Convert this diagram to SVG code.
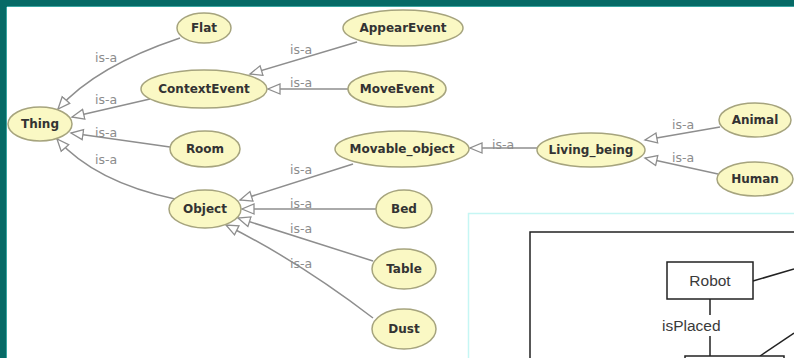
<svg xmlns="http://www.w3.org/2000/svg" width="794" height="358" viewBox="0 0 794 358">
<style>
.node ellipse{fill:#faf8c4;stroke:#a6a47e;stroke-width:1.5}
.node text{font-family:"DejaVu Sans",sans-serif;font-size:12px;font-weight:bold;fill:#333;text-anchor:middle}
.edge{fill:none;stroke:#8e8e8e;stroke-width:1.5;marker-end:url(#tri)}
.lbl{font-family:"DejaVu Sans",sans-serif;font-size:12.5px;fill:#8c8c8c}
.box{fill:#fff;stroke:#222;stroke-width:1.5}
.btxt{font-family:"Liberation Sans",Arial,sans-serif;font-size:15.5px;fill:#3a3a3a}
</style>
<defs>
<marker id="tri" markerUnits="userSpaceOnUse" markerWidth="16" markerHeight="14" refX="13" refY="6" orient="auto" viewBox="0 0 16 12">
<path d="M1,1 L13,6 L1,11 Z" fill="#fff" stroke="#8e8e8e" stroke-width="1.3"/>
</marker>
</defs>
<rect x="0" y="0" width="794" height="358" fill="#fff"/>
<rect x="0" y="0" width="794" height="7" fill="#066a66"/>
<rect x="0" y="0" width="7" height="358" fill="#066a66"/>
<line x1="7" y1="6.5" x2="794" y2="6.5" stroke="#3aa6a2" stroke-width="1"/>
<line x1="6.5" y1="7" x2="6.5" y2="358" stroke="#3aa6a2" stroke-width="1"/>

<g id="connectors">
<path class="edge" d="M180,38 Q96,66 58,109"/>
<path class="edge" d="M150,99 L72,117"/>
<path class="edge" d="M170,147 L71,133"/>
<path class="edge" d="M175,199 Q95,182 57,139"/>
<path class="edge" d="M357,42 L250,74"/>
<path class="edge" d="M348,89 L268,89"/>
<path class="edge" d="M353,164 L240,200"/>
<path class="edge" d="M376,209 L242,209"/>
<path class="edge" d="M373,261 L238,218"/>
<path class="edge" d="M373,318 Q300,262 226,225"/>
<path class="edge" d="M537,148 L470,148"/>
<path class="edge" d="M720,127 L645,140"/>
<path class="edge" d="M718,174 L645,158"/>
<text class="lbl" x="95" y="62">is-a</text>
<text class="lbl" x="95" y="104">is-a</text>
<text class="lbl" x="95" y="137">is-a</text>
<text class="lbl" x="95" y="164">is-a</text>
<text class="lbl" x="290" y="54">is-a</text>
<text class="lbl" x="290" y="87">is-a</text>
<text class="lbl" x="290" y="174">is-a</text>
<text class="lbl" x="290" y="208">is-a</text>
<text class="lbl" x="290" y="233">is-a</text>
<text class="lbl" x="290" y="268">is-a</text>
<text class="lbl" x="492" y="149">is-a</text>
<text class="lbl" x="672" y="129">is-a</text>
<text class="lbl" x="672" y="162">is-a</text>
</g>

<g id="Thing" class="node"><ellipse cx="40" cy="124" rx="32" ry="17"/><text x="40" y="128">Thing</text></g>
<g id="Flat" class="node"><ellipse cx="204" cy="28" rx="27" ry="15"/><text x="204" y="32">Flat</text></g>
<g id="ContextEvent" class="node"><ellipse cx="204" cy="89" rx="63" ry="19"/><text x="204" y="93">ContextEvent</text></g>
<g id="Room" class="node"><ellipse cx="205" cy="149" rx="35" ry="18"/><text x="205" y="153">Room</text></g>
<g id="Object" class="node"><ellipse cx="205" cy="209" rx="36" ry="19"/><text x="205" y="213">Object</text></g>
<g id="AppearEvent" class="node"><ellipse cx="403" cy="28" rx="60" ry="18"/><text x="403" y="32">AppearEvent</text></g>
<g id="MoveEvent" class="node"><ellipse cx="397" cy="89" rx="49" ry="18"/><text x="397" y="93">MoveEvent</text></g>
<g id="Movable_object" class="node"><ellipse cx="402" cy="149" rx="67" ry="18"/><text x="402" y="153">Movable_object</text></g>
<g id="Bed" class="node"><ellipse cx="404" cy="209" rx="28" ry="19"/><text x="404" y="213">Bed</text></g>
<g id="Table" class="node"><ellipse cx="404" cy="269" rx="32" ry="20"/><text x="404" y="273">Table</text></g>
<g id="Dust" class="node"><ellipse cx="404" cy="329" rx="32" ry="20"/><text x="404" y="333">Dust</text></g>
<g id="Living_being" class="node"><ellipse cx="591" cy="150" rx="54" ry="17"/><text x="591" y="154">Living_being</text></g>
<g id="Animal" class="node"><ellipse cx="755" cy="120" rx="36" ry="17"/><text x="755" y="124">Animal</text></g>
<g id="Human" class="node"><ellipse cx="755" cy="179" rx="38" ry="17"/><text x="755" y="183">Human</text></g>

<g id="inset">
<path d="M468.5,358 L468.5,213.5 L794,213.5" fill="none" stroke="#c6f6f4" stroke-width="1.5"/>
<rect x="530" y="232" width="300" height="200" fill="none" stroke="#222" stroke-width="1.5"/>
<g id="inset-connectors" stroke="#222" stroke-width="1.5" fill="none">
<line x1="710" y1="299" x2="710" y2="315"/>
<line x1="710" y1="336" x2="710" y2="356"/>
<line x1="753" y1="281" x2="794" y2="269"/>
<line x1="760" y1="356" x2="794" y2="333"/>
</g>
<g id="Robot"><rect class="box" x="667" y="262" width="86" height="37"/><text class="btxt" x="710" y="286" text-anchor="middle">Robot</text></g>
<text class="btxt" x="662" y="331">isPlaced</text>
<g id="Place"><rect class="box" x="685" y="356" width="99" height="20"/></g>
</g>
</svg>
